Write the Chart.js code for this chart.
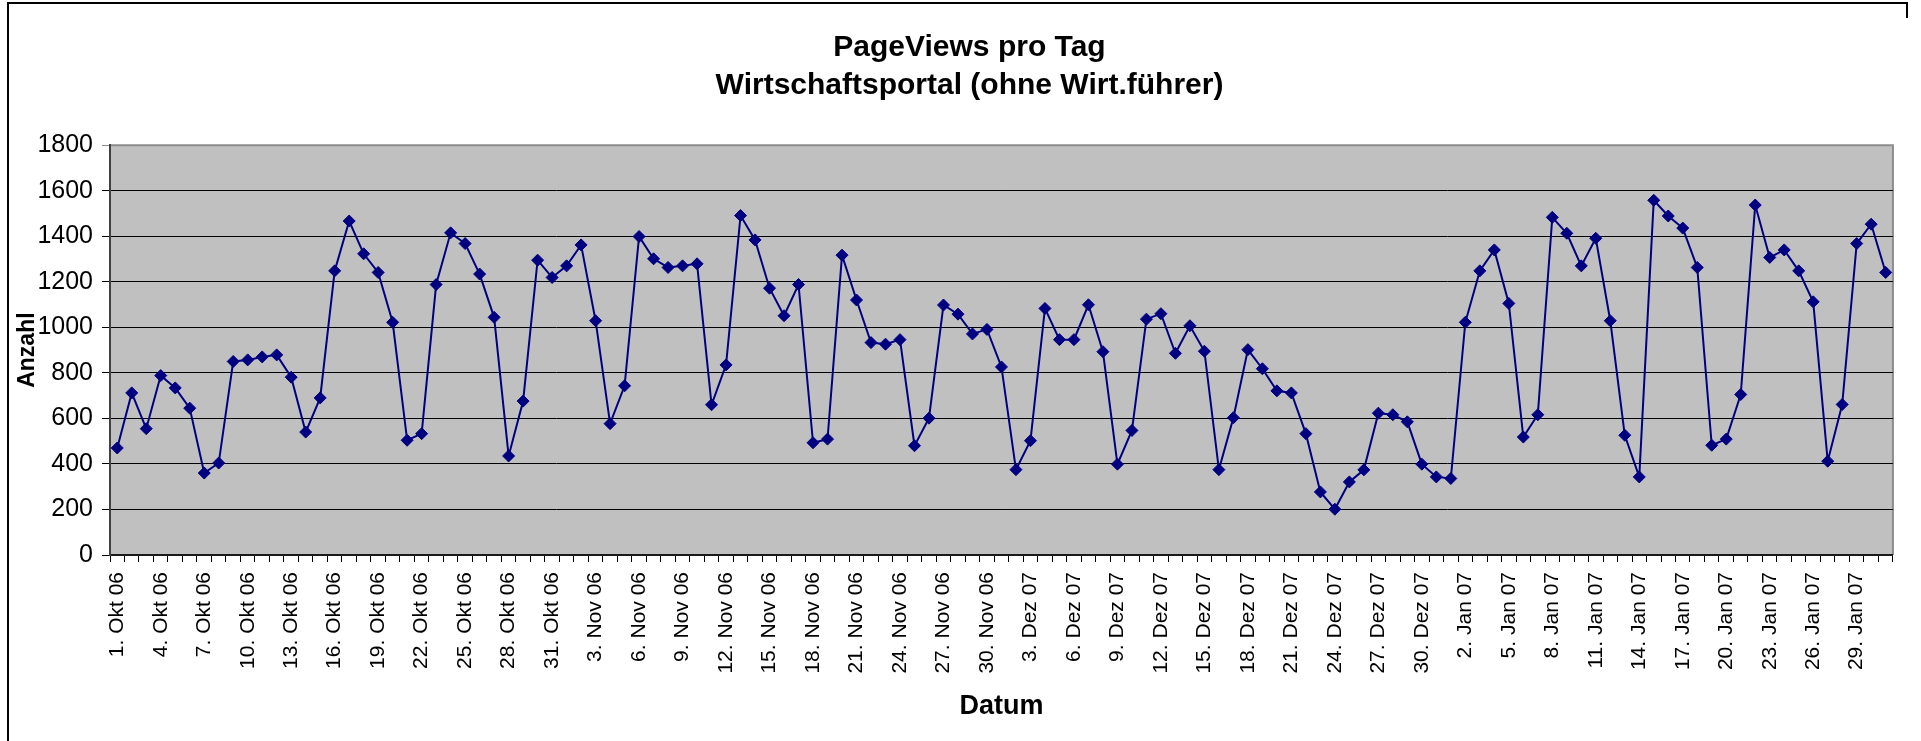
<!DOCTYPE html>
<html>
<head>
<meta charset="utf-8">
<script src="https://cdn.jsdelivr.net/npm/chart.js@4.4.1/dist/chart.umd.min.js"></script>
<style>
  html, body { margin: 0; padding: 0; background: #ffffff; }
  canvas { display: block; }
</style>
</head>
<body>
<canvas id="c" width="1921" height="741"></canvas>
<script>
// ---- data ----
const monthLabels = ["Okt 06", "Nov 06", "Dez 07", "Jan 07"];
const monthDays = [31, 30, 31, 31];

const viewsOkt = [470, 712, 555, 788, 734, 645, 360, 404, 850, 857, 870, 879, 781, 540, 690,
  1248, 1467, 1323, 1241, 1022, 504, 533, 1188, 1415, 1368, 1234, 1044, 435, 676, 1295, 1219];
const viewsNov = [1270, 1362, 1029, 577, 743, 1399, 1301, 1263, 1270, 1279, 660, 835, 1491, 1384, 1172,
  1051, 1188, 493, 509, 1317, 1120, 933, 926, 946, 480, 601, 1098, 1058, 971, 991];
const viewsDez = [826, 375, 502, 1083, 946, 946, 1099, 893, 399, 547, 1036, 1060, 886, 1007, 895,
  375, 603, 902, 818, 721, 712, 533, 277, 201, 321, 374, 623, 616, 585, 399, 343];
const viewsJan = [336, 1022, 1248, 1340, 1105, 518, 616, 1483, 1413, 1270, 1391, 1029, 526, 343, 1558,
  1489, 1436, 1263, 482, 509, 705, 1537, 1307, 1340, 1248, 1112, 412, 661, 1368, 1453, 1241];

const yTicks = [0, 200, 400, 600, 800, 1000, 1200, 1400, 1600, 1800];
const titleLines = ["PageViews pro Tag", "Wirtschaftsportal (ohne Wirt.führer)"];
const xTitle = "Datum";
const yTitle = "Anzahl";

const categories = monthLabels.flatMap((m, i) =>
  Array.from({ length: monthDays[i] }, (_, d) => (d + 1) + ". " + m));
const pageViews = [...viewsOkt, ...viewsNov, ...viewsDez, ...viewsJan];

// ---- drawing ----
Chart.defaults.font.family = "'Liberation Sans', Arial, sans-serif";
Chart.defaults.color = "#000000";

const framePlugin = {
  id: "frame",
  afterLayout(chart) {
    // the original title is centred on the full (wider) chart frame
    const t = chart.titleBlock;
    if (t) { t.left += 19; t.right += 19; }
  },
  beforeDraw(chart) {
    const { ctx, chartArea: a } = chart;
    ctx.save();
    ctx.fillStyle = "#C0C0C0";
    ctx.fillRect(a.left, a.top, a.right - a.left, a.bottom - a.top);
    ctx.strokeStyle = "#8c8c8c";
    ctx.lineWidth = 2;
    ctx.beginPath();
    ctx.moveTo(a.left, a.top);
    ctx.lineTo(a.right, a.top);
    ctx.lineTo(a.right, a.bottom);
    ctx.stroke();
    // outer chart frame
    ctx.strokeStyle = "#000000";
    ctx.lineWidth = 2;
    ctx.beginPath();
    ctx.moveTo(8, 741);
    ctx.lineTo(8, 3);
    ctx.lineTo(1907, 3);
    ctx.lineTo(1907, 18);
    ctx.stroke();
    ctx.restore();
  }
};

new Chart(document.getElementById("c"), {
  type: "line",
  data: {
    labels: categories,
    datasets: [{
      data: pageViews,
      borderColor: "#000080",
      backgroundColor: "#000080",
      borderWidth: 2,
      pointStyle: "rectRot",
      pointRadius: 6,
      pointBorderWidth: 1,
      pointBorderColor: "#000080",
      pointBackgroundColor: "#000080",
      tension: 0,
      fill: false
    }]
  },
  options: {
    responsive: false,
    animation: false,
    devicePixelRatio: 1,
    layout: { padding: { left: 8, right: 28, top: 3, bottom: 17 } },
    plugins: {
      legend: { display: false },
      tooltip: { enabled: false },
      title: {
        display: true,
        text: titleLines,
        color: "#000000",
        font: { size: 30, weight: "bold", lineHeight: 1.27 },
        padding: { top: 26, bottom: 40 }
      }
    },
    scales: {
      x: {
        type: "category",
        offset: true,
        afterFit(scale) { scale.height = 169; },
        grid: {
          offset: true,
          drawOnChartArea: false,
          drawTicks: true,
          tickLength: 7,
          color: "#000000",
          lineWidth: 1
        },
        border: { display: true, color: "#1a1a1a", width: 2 },
        ticks: {
          autoSkip: false,
          minRotation: 90,
          maxRotation: 90,
          padding: 10,
          color: "#000000",
          font: { size: 21 },
          callback(value, index) {
            return index % 3 === 0 ? this.getLabelForValue(value) : "";
          }
        },
        title: {
          display: true,
          text: xTitle,
          color: "#000000",
          font: { size: 27, weight: "bold" },
          padding: { top: 0, bottom: 1 }
        }
      },
      y: {
        min: yTicks[0],
        max: yTicks[yTicks.length - 1],
        afterFit(scale) { scale.width = 102; },
        afterBuildTicks(scale) { scale.ticks = yTicks.map(v => ({ value: v })); },
        grid: {
          drawTicks: true,
          tickLength: 8,
          color(ctx) { return ctx.tick && ctx.tick.value === 1800 ? "#8c8c8c" : "#000000"; },
          lineWidth: 1
        },
        border: { display: true, color: "#404040", width: 2 },
        ticks: {
          padding: 9,
          color: "#000000",
          font: { size: 25 },
          callback(value) { return String(value); }
        },
        title: {
          display: true,
          text: yTitle,
          color: "#000000",
          font: { size: 23, weight: "bold" },
          padding: { top: 6, bottom: 0 }
        }
      }
    }
  },
  plugins: [framePlugin]
});
</script>
</body>
</html>
